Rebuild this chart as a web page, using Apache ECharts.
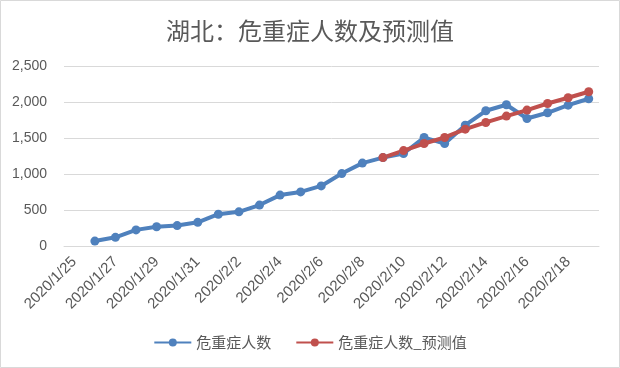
<!DOCTYPE html>
<html>
<head>
<meta charset="utf-8">
<script src="https://cdn.jsdelivr.net/npm/echarts@6/dist/echarts.min.js"></script>
<style>
html,body{margin:0;padding:0;background:#fff;}
#c{width:620px;height:368px;}
</style>
</head>
<body>
<div id="c"></div>
<script>
var categories = ['2020/1/25','2020/1/26','2020/1/27','2020/1/28','2020/1/29','2020/1/30','2020/1/31',
  '2020/2/1','2020/2/2','2020/2/3','2020/2/4','2020/2/5','2020/2/6','2020/2/7','2020/2/8','2020/2/9',
  '2020/2/10','2020/2/11','2020/2/12','2020/2/13','2020/2/14','2020/2/15','2020/2/16','2020/2/17','2020/2/18','2020/2/19'];
var severe = [null, 75,127,230,274,290,335,447,480,574,712,756,839,1010,1155,1231,1288,1509,1426,1680,1880,1963,1773,1852,1958,2046];
var predicted = [null,null,null,null,null,null,null,null,null,null,null,null,null,null,null,
  1231,1328,1426,1510,1625,1718,1806,1889,1981,2060,2143];
var yTicks = [0, 500, 1000, 1500, 2000, 2500];

var chart = echarts.init(document.getElementById('c'), null, {renderer:'canvas'});
var txt = '#595959';
var cjk = '"Noto Sans CJK SC", "Microsoft YaHei", sans-serif';
var lat = '"Liberation Sans", Arial, sans-serif';
chart.setOption({
  animation:false,
  backgroundColor:'#fff',
  graphic:[{type:'rect', shape:{x:0.5,y:0.5,width:619,height:367}, style:{fill:'none', stroke:'#d9d9d9', lineWidth:1}, silent:true}],
  title:{text:'湖北：危重症人数及预测值', left:'center', top:14,
    textStyle:{color:txt, fontSize:24, fontWeight:'normal', fontFamily:cjk}},
  legend:{bottom:13, left:'center', itemWidth:37, itemHeight:10, itemGap:24,
    textStyle:{color:txt, fontSize:15, fontFamily:cjk},
    data:['危重症人数','危重症人数_预测值']},
  grid:{left:64, right:21, top:66, bottom:121.5},
  xAxis:{type:'category', data:categories, boundaryGap:true,
    axisLine:{lineStyle:{color:'#d9d9d9', width:1}},
    axisTick:{show:false},
    axisLabel:{interval:1, rotate:45, color:txt, fontSize:15, fontFamily:lat, margin:13}},
  yAxis:{type:'value', min:yTicks[0], max:yTicks[yTicks.length-1], interval:500,
    axisLine:{show:false}, axisTick:{show:false},
    splitLine:{lineStyle:{color:'#d9d9d9', width:1}},
    axisLabel:{color:txt, fontSize:14, fontFamily:lat, margin:17,
      formatter:function(v){return v.toLocaleString('en-US');}}},
  series:[
    {name:'危重症人数', type:'line', data:severe, symbol:'circle', symbolSize:9,
      lineStyle:{color:'#4F81BD', width:4}, itemStyle:{color:'#4F81BD'}},
    {name:'危重症人数_预测值', type:'line', data:predicted, symbol:'circle', symbolSize:9,
      lineStyle:{color:'#C0504D', width:4}, itemStyle:{color:'#C0504D'}}
  ]
});
</script>
</body>
</html>
